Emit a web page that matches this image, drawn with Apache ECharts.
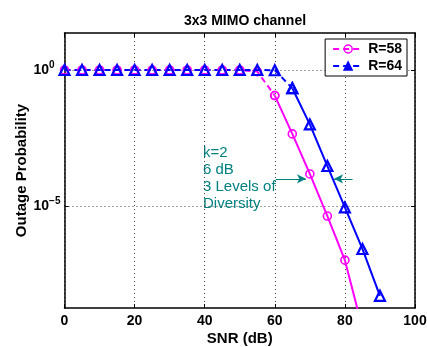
<!DOCTYPE html>
<html>
<head>
<meta charset="utf-8">
<script src="https://cdn.jsdelivr.net/npm/echarts@6/dist/echarts.min.js"></script>
<style>html,body{margin:0;padding:0;background:#fff}#c{width:427px;height:347px}</style>
</head>
<body>
<div id="c"></div>
<script>
// ---- data ----
const snrR58Dashed = [0, 5, 10, 15, 20, 25, 30, 35, 40, 45, 50, 55, 60];
const r58Dashed    = [1, 1, 1, 1, 1, 1, 1, 1, 1, 1, 1, 0.871, 0.115];
const snrR58Solid  = [60, 65, 70, 75, 80, 85];
const r58Solid     = [0.115, 4.47e-3, 1.51e-4, 4.27e-6, 1.02e-7, 3.2e-10];
const snrR64Dashed = [0, 5, 10, 15, 20, 25, 30, 35, 40, 45, 50, 55, 60, 65];
const r64Dashed    = [1, 1, 1, 1, 1, 1, 1, 1, 1, 1, 1, 1, 0.98, 0.214];
const snrR64Solid  = [65, 70, 75, 80, 85, 90];
const r64Solid     = [0.214, 0.01, 2.95e-4, 8.9e-6, 2.63e-7, 5.0e-9];
const xTicks = [0, 20, 40, 60, 80, 100];
const yTicks = [1e-5, 1];
const arrowLeft  = [[60.3, 1e-4], [68.9, 1e-4]];
const arrowRight = [[82.2, 1e-4], [76.9, 1e-4]];
const noteLines = ['k=2', '6 dB', '3 Levels of', 'Diversity'];

const zip = (xs, ys) => xs.map((x, i) => [x, ys[i]]);
const MAG = '#ff00ff', BLU = '#0000ff', TEAL = '#008080';
const FONT = 'Liberation Sans, Arial, sans-serif';

const yMin = Math.pow(10, -8.75), yMax = Math.pow(10, 1.36);

const chart = echarts.init(document.getElementById('c'), null, {renderer: 'canvas'});

function mkSeries(name, data, color, dashed, symbol, size, bw, extra) {
  return Object.assign({
    name: name, type: 'line', data: data,
    symbol: symbol, symbolSize: size, showSymbol: true,
    lineStyle: {color: color, width: 2, type: dashed ? [6, 4] : 'solid'},
    itemStyle: {color: 'rgba(0,0,0,0)', borderColor: color, borderWidth: bw},
    emphasis: {disabled: true},
    animation: false
  }, extra || {});
}

const yLabelFmt = v => {
  const e = Math.round(Math.log10(v));
  return '{b|10}{s|' + (e < 0 ? '\u2212' + (-e) : e) + '}';
};

const option = {
  animation: false,
  title: {
    text: '3x3 MIMO channel', left: 240, top: 9, textAlign: 'center',
    textStyle: {fontFamily: FONT, fontSize: 14, fontWeight: 'bold', color: '#000'}
  },
  grid: {left: 64.5, right: 12, top: 33, bottom: 39, containLabel: false, outerBoundsMode: 'none'},
  legend: {
    orient: 'vertical', right: 20, top: 39,
    backgroundColor: '#fff', borderColor: '#000', borderWidth: 1,
    padding: [3, 5, 3, 7], itemGap: 3, itemWidth: 30, itemHeight: 10,
    textStyle: {fontFamily: FONT, fontSize: 14, fontWeight: 'bold', color: '#000'},
    data: [
      {name: 'R=58', itemStyle: {color: 'rgba(0,0,0,0)', borderColor: MAG, borderWidth: 1.5}},
      {name: 'R=64', itemStyle: {color: BLU, borderColor: BLU, borderWidth: 1.5}}
    ]
  },
  xAxis: [{
    type: 'value', min: 0, max: 100, interval: 20,
    axisLine: {show: true, onZero: false, lineStyle: {color: '#000', width: 1.5}},
    axisTick: {show: true, inside: true, length: 4, lineStyle: {color: '#000'}},
    axisLabel: {margin: 6, fontFamily: FONT, fontSize: 14, fontWeight: 'bold', color: '#000'},
    splitLine: {show: true, lineStyle: {color: '#444', type: [1, 3], width: 1}},
    name: 'SNR (dB)', nameLocation: 'middle', nameGap: 23, nameMoveOverlap: false,
    nameTextStyle: {fontFamily: FONT, fontSize: 15, fontWeight: 'bold', color: '#000'}
  }, {
    type: 'value', min: 0, max: 100, interval: 20, position: 'top',
    axisLine: {show: true, onZero: false, lineStyle: {color: '#000', width: 1.5}},
    axisTick: {show: true, inside: true, length: 4, lineStyle: {color: '#000'}},
    axisLabel: {show: false}, splitLine: {show: false}
  }],
  yAxis: [{
    type: 'log', logBase: 10, min: yMin, max: yMax,
    axisLine: {show: true, onZero: false, lineStyle: {color: '#000', width: 1.5}},
    axisTick: {show: true, inside: true, length: 4, customValues: yTicks, lineStyle: {color: '#000'}},
    minorTick: {show: false},
    axisLabel: {
      customValues: yTicks, align: 'left', margin: 31, formatter: yLabelFmt,
      rich: {
        b: {fontFamily: FONT, fontSize: 14, fontWeight: 'bold', color: '#000'},
        s: {fontFamily: FONT, fontSize: 10, fontWeight: 'bold', color: '#000', padding: [0, 0, 10, 0]}
      }
    },
    splitLine: {show: true, lineStyle: {color: '#444', type: [1, 3], width: 1}},
    name: 'Outage Probability', nameLocation: 'middle', nameGap: 35, nameMoveOverlap: false,
    nameTextStyle: {fontFamily: FONT, fontSize: 15, fontWeight: 'bold', color: '#000'}
  }, {
    type: 'log', logBase: 10, min: yMin, max: yMax, position: 'right',
    axisLine: {show: true, onZero: false, lineStyle: {color: '#000', width: 1.5}},
    axisTick: {show: true, inside: true, length: 4, customValues: yTicks, lineStyle: {color: '#000'}},
    axisLabel: {show: false, customValues: yTicks}, splitLine: {show: false}
  }],
  series: [
    mkSeries('R=58', zip(snrR58Dashed, r58Dashed), MAG, true, 'circle', 8, 1.6),
    mkSeries('R=58 ', zip(snrR58Solid, r58Solid), MAG, false, 'circle', 8, 1.6, {
      markLine: {
        silent: true, animation: false, symbol: ['none', 'arrow'], symbolSize: [7, 9],
        label: {show: false},
        lineStyle: {color: TEAL, width: 1, type: 'solid'},
        data: [
          [{coord: arrowLeft[0]}, {coord: arrowLeft[1]}],
          [{coord: arrowRight[0]}, {coord: arrowRight[1]}]
        ]
      }
    }),
    mkSeries('R=64', zip(snrR64Dashed, r64Dashed), BLU, true, 'triangle', 10, 2.2),
    mkSeries('R=64 ', zip(snrR64Solid, r64Solid), BLU, false, 'triangle', 10, 2.2)
  ],
  graphic: [{
    type: 'text', left: 203, top: 145, silent: true,
    style: {text: noteLines.join('\n'), fill: TEAL, font: '15px ' + FONT, lineHeight: 16.7}
  }]
};
chart.setOption(option);
</script>
</body>
</html>
